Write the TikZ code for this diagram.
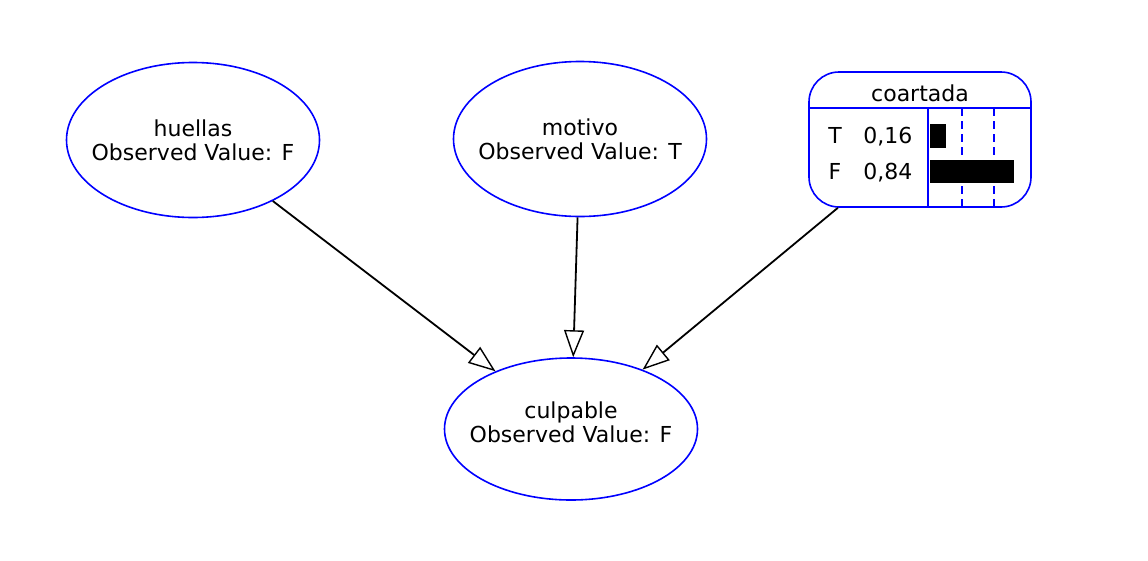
\documentclass[tikz,border=0pt]{standalone}
\usepackage{fontspec}
\setmainfont{DejaVu Sans}
\usetikzlibrary{shapes.geometric,arrows.meta}
\begin{document}
\begin{tikzpicture}[x=1pt,y=-1pt,
  every node/.style={font=\fontsize{22}{24}\selectfont},
  var/.style={ellipse,draw=blue,line width=1.6pt,minimum width=253pt,minimum height=155pt,inner sep=0pt},
  txt/.style={align=center,inner sep=0pt},
  edge/.style={draw=black,line width=1.8pt,-{Triangle[open,length=27pt,width=20pt,line width=1.4pt]}},
  grid/.style={blue,line width=1.6pt},
  bar/.style={fill=black}]
\useasboundingbox (0,0) rectangle (1148,560);
\node[var] (huellas) at (193,140) {};
\node[txt] (huellast) at (193,140) {huellas\\Observed Value: F};
\node[var] (motivo) at (580,139) {};
\node[txt] (motivot) at (580,139) {motivo\\Observed Value: T};
\node[var,minimum height=142pt] (culpable) at (571,429) {};
\node[txt] (culpablet) at (571,422) {culpable\\Observed Value: F};
\node[draw=blue,line width=1.6pt,rounded corners=30pt,minimum width=222pt,minimum height=135pt,inner sep=0pt] (coartada) at (920,139.5) {};
\node[anchor=base] (ct) at (920,101) {coartada};
\coordinate (hl) at (810,108);
\coordinate (hr) at (1031,108);
\draw[grid] (hl) -- (hr);
\draw[grid] (928,108) -- (928,207);
\draw[grid,dash pattern=on 8pt off 5pt] (962,108) -- (962,207);
\draw[grid,dash pattern=on 8pt off 5pt] (994,108) -- (994,207);
\node[anchor=base] (tl) at (835,143) {T};
\node[anchor=base east] (tv) at (916,143) {0,16};
\node[anchor=base] (fl) at (835,179) {F};
\node[anchor=base east] (fv) at (916,179) {0,84};
\fill[bar] (930,124) rectangle (946,148);
\fill[bar] (930,160) rectangle (1014,183);
\draw[edge] (huellas) -- (culpable);
\draw[edge] (motivo) -- (culpable);
\draw[edge] (coartada) -- (culpable);
\end{tikzpicture}
\end{document}
